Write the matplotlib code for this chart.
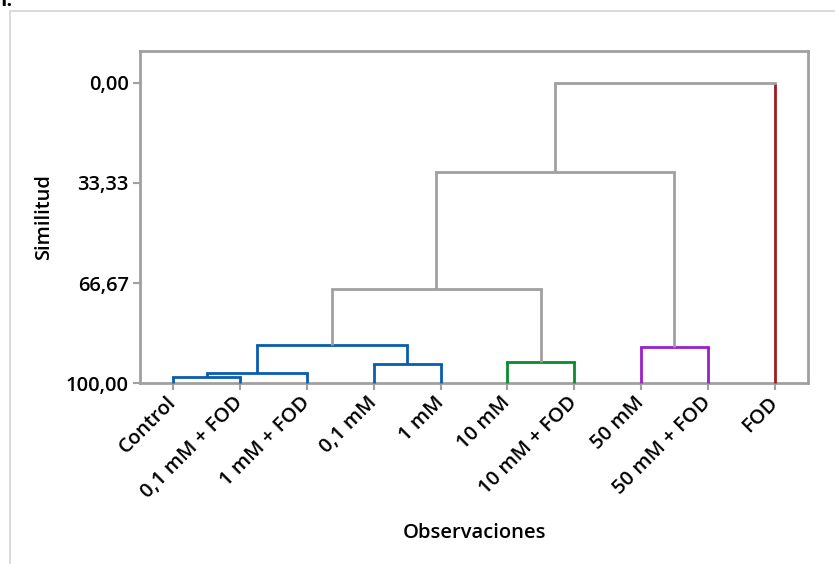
import matplotlib
matplotlib.use("Agg")
import matplotlib.pyplot as plt
from matplotlib.lines import Line2D

# -------------------------------
# Data
# -------------------------------
labels = ["Control", "0,1 mM + FOD", "1 mM + FOD", "0,1 mM", "1 mM",
          "10 mM", "10 mM + FOD", "50 mM", "50 mM + FOD", "FOD"]
leaf_colors = ["#0A5CB0"] * 5 + ["#0A8A2E"] * 2 + ["#9B1FCB"] * 2 + ["#A01C1C"]

# merges: left child, right child, similarity, colour (new node ids start at 10)
merge_left = [0, 10, 3, 11, 5, 13, 7, 15, 17]
merge_right = [1, 2, 4, 12, 6, 14, 8, 16, 9]
merge_sim = [98.0, 96.8, 93.7, 87.3, 93.0, 68.8, 88.0, 29.7, 0.0]
merge_color = ["#0A5CB0", "#0A5CB0", "#0A5CB0", "#0A5CB0", "#0A8A2E",
               "#A0A0A0", "#9B1FCB", "#A0A0A0", "#A0A0A0"]

y_ticks = [0, 33.33, 66.67, 100]
y_ticklabels = ["0,00", "33,33", "66,67", "100,00"]

FONT = "Open Sans"
FS = 14.5
LW = 2.0

fig = plt.figure(figsize=(8.35, 5.64), dpi=100)
ax = fig.add_axes([0.1677, 0.3209, 0.8, 0.5887])

# node positions
xpos = {i: float(i + 1) for i in range(len(labels))}
ypos = {i: 100.0 for i in range(len(labels))}
n = len(labels)
for k, (a, b, s, c) in enumerate(zip(merge_left, merge_right, merge_sim, merge_color)):
    node = n + k
    xa, xb = xpos[a], xpos[b]
    ca = leaf_colors[a] if a < n else c
    cb = leaf_colors[b] if b < n else c
    ax.plot([xa, xa], [ypos[a], s], color=ca, lw=LW, clip_on=False,
            solid_capstyle="butt", zorder=3)
    ax.plot([xb, xb], [ypos[b], s], color=cb, lw=LW, clip_on=False,
            solid_capstyle="butt", zorder=3)
    ax.plot([xa, xb], [s, s], color=c, lw=LW, clip_on=False,
            solid_capstyle="projecting", zorder=3)
    xpos[node] = (xa + xb) / 2
    ypos[node] = s

ax.set_xlim(0.5, n + 0.5)
ax.set_ylim(100, -10.67)

ax.set_xticks(range(1, n + 1))
ax.set_xticklabels(labels, rotation=45, ha="right", va="center",
                   rotation_mode="anchor",
                   fontsize=FS, family=FONT, fontweight="semibold")
ax.set_yticks(y_ticks)
ax.set_yticklabels(y_ticklabels, fontsize=FS, family=FONT, fontweight="semibold")
ax.tick_params(axis="both", color="#A0A0A0", width=1.5, length=5, direction="out")
ax.tick_params(axis="x", pad=7)
ax.tick_params(axis="y", pad=3)

for sp in ax.spines.values():
    sp.set_color("#A0A0A0")
    sp.set_linewidth(2.0)

ax.set_ylabel("Similitud", fontsize=FS, family=FONT, fontweight="semibold")
ax.yaxis.set_label_coords(-0.128, 0.5)
fig.text(474 / 835, 1 - 533 / 564, "Observaciones", ha="center", va="center",
         fontsize=FS, family=FONT, fontweight="semibold")

# outer frame of the screenshot
fig.add_artist(Line2D([9.5 / 835, 9.5 / 835, 1.0], [0.0, 1 - 11 / 564, 1 - 11 / 564],
                      transform=fig.transFigure, color="#D4D4D4", lw=1.2))
fig.text(0.0, 1 - 6 / 564, "I.", fontsize=14, fontweight="bold", family=FONT,
         va="baseline", ha="left")

fig.savefig("out.png", dpi=100)
